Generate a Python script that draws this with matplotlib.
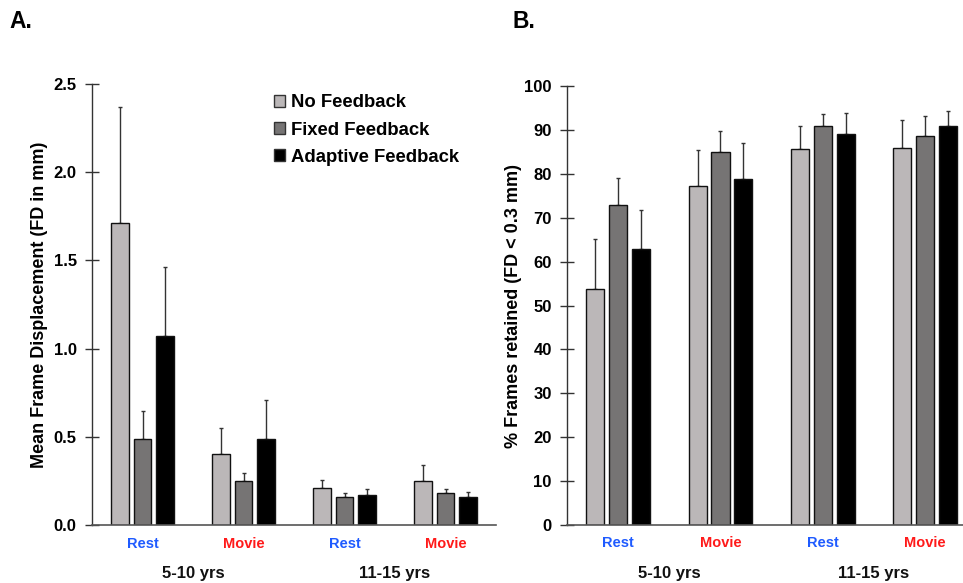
import matplotlib
matplotlib.use("Agg")
import matplotlib.pyplot as plt
import numpy as np
from matplotlib.patches import Patch
from matplotlib.transforms import blended_transform_factory

plt.rcParams['font.family'] = ['Liberation Sans', 'DejaVu Sans']
plt.rcParams['font.weight'] = 'bold'

series = ["No Feedback", "Fixed Feedback", "Adaptive Feedback"]
conditions = ["Rest", "Movie", "Rest", "Movie"]
ages = ["5-10 yrs", "11-15 yrs"]

# Panel A: mean FD (mm), rows = series, cols = groups
fd_mean = {
    "No Feedback":       [1.71, 0.40, 0.21, 0.25],
    "Fixed Feedback":    [0.49, 0.25, 0.16, 0.18],
    "Adaptive Feedback": [1.07, 0.49, 0.17, 0.16],
}
fd_err = {
    "No Feedback":       [0.66, 0.15, 0.045, 0.09],
    "Fixed Feedback":    [0.155, 0.045, 0.023, 0.025],
    "Adaptive Feedback": [0.395, 0.22, 0.034, 0.025],
}
# Panel B: % frames retained
fr_mean = {
    "No Feedback":       [53.7, 77.3, 85.6, 85.9],
    "Fixed Feedback":    [72.9, 85.0, 90.9, 88.6],
    "Adaptive Feedback": [62.9, 78.8, 89.1, 91.0],
}
fr_err = {
    "No Feedback":       [11.5, 8.1, 5.2, 6.4],
    "Fixed Feedback":    [6.1, 4.8, 2.8, 4.5],
    "Adaptive Feedback": [8.8, 8.2, 4.7, 3.2],
}

colors = ["#BBB7B8", "#767474", "#000000"]
cond_colors = {"Rest": "#1F5BFF", "Movie": "#FF1A1A"}

W, H = 963, 583
fig = plt.figure(figsize=(W / 100, H / 100), dpi=100)

axA = fig.add_axes([92 / W, 1 - 525 / H, (496 - 92) / W, (525 - 84) / H])
axB = fig.add_axes([567 / W, 1 - 525 / H, (963 - 567) / W, (525 - 86) / H])

x = np.arange(len(conditions))
offs = [-0.223, 0.0, 0.223]
bw = 0.178


def draw(ax, means, errs):
    for i, s in enumerate(series):
        xs = x + offs[i]
        ax.bar(xs, means[s], width=bw, color=colors[i], edgecolor="#111111",
               linewidth=1.0, zorder=2)
        ax.errorbar(xs, means[s], yerr=[np.zeros(len(errs[s])), errs[s]],
                    fmt="none", ecolor="#333333", elinewidth=1.0,
                    capsize=1.5, capthick=1.0, zorder=1)
    for sp in ["top", "right"]:
        ax.spines[sp].set_visible(False)
    ax.spines["left"].set_color("#333333")
    ax.spines["bottom"].set_color("#555555")
    ax.spines["left"].set_linewidth(1.0)
    ax.spines["bottom"].set_linewidth(1.2)
    ax.set_xticks([])
    ax.tick_params(axis="y", direction="inout", length=10, width=1,
                   labelsize=12, pad=6, color="#333333")
    tr = blended_transform_factory(ax.transData, ax.transAxes)
    for j, c in enumerate(conditions):
        ax.text(x[j], -0.042, c, transform=tr, ha="center", va="center",
                color=cond_colors[c], fontsize=10.5, fontweight="bold")
    for k, a in enumerate(ages):
        ax.text(2 * k + 0.5, -0.11, a, transform=tr, ha="center", va="center",
                fontsize=12, fontweight="bold", color="#111111")


draw(axA, fd_mean, fd_err)
axA.set_ylim(0, 2.5)
axA.set_xlim(-0.5, 3.5)
axA.set_yticks([0, 0.5, 1.0, 1.5, 2.0, 2.5])
axA.set_yticklabels(["0.0", "0.5", "1.0", "1.5", "2.0", "2.5"], fontweight="bold")
axA.set_ylabel("Mean Frame Displacement (FD in mm)", fontsize=13,
               fontweight="bold", labelpad=4)

draw(axB, fr_mean, fr_err)
axB.set_ylim(0, 100)
axB.set_xlim(-0.5, 3.37)
axB.set_yticks(np.arange(0, 101, 10))
axB.set_yticklabels([str(v) for v in range(0, 101, 10)], fontweight="bold")
axB.set_ylabel("% Frames retained (FD < 0.3 mm)", fontsize=13,
               fontweight="bold", labelpad=1.5)

handles = [Patch(facecolor=colors[i], edgecolor="#333333", linewidth=1.0,
                 label=series[i]) for i in range(3)]
axA.legend(handles=handles, loc="upper left", bbox_to_anchor=(0.41, 1.014),
           frameon=False, handlelength=0.6, handleheight=0.6,
           handletextpad=0.3, labelspacing=0.55,
           prop={"weight": "bold", "size": 13.3})

fig.text(9 / W, 1 - 22 / H, "A.", fontsize=16.5, fontweight="bold",
         ha="left", va="center")
fig.text(512 / W, 1 - 22 / H, "B.", fontsize=16.5, fontweight="bold",
         ha="left", va="center")

fig.savefig("out.png", dpi=100)
